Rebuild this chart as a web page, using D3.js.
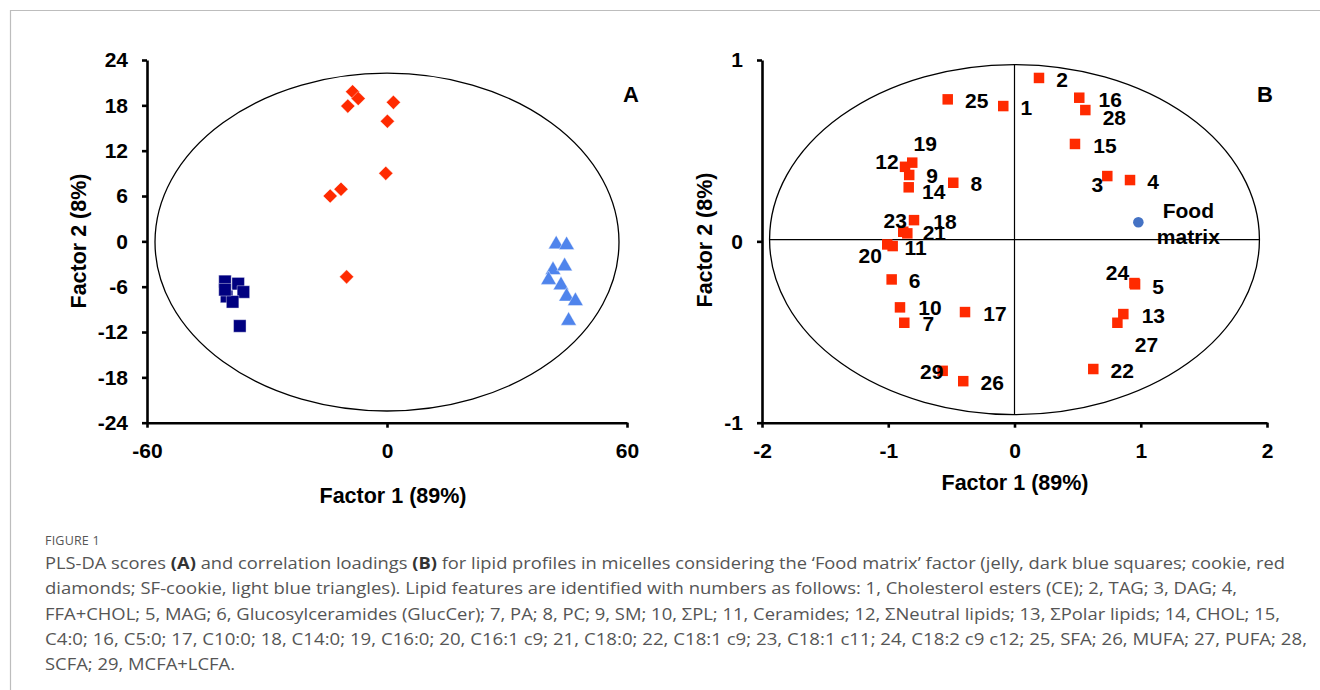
<!DOCTYPE html>
<html>
<head>
<meta charset="utf-8">
<script src="https://cdn.jsdelivr.net/npm/d3@7"></script>
<style>
  body { margin: 0; background: #fff; }
  svg text { font-family: "Liberation Sans", Arial, sans-serif; }
  .tick text { font-size: 21px; font-weight: bold; fill: #000; }
  .caption { font-family: "Open Sans", sans-serif; fill: #555; }
</style>
</head>
<body>
<div id="chart"></div>
<script>
// Panel A: PLS-DA scores
var jelly = [[-40.5, -5.3], [-37.2, -5.6], [-35.9, -6.7], [-40.1, -7.3], [-38.6, -8.0], [-40.5, -6.4], [-36.8, -11.2]];
var cookie = [[-8.6, 19.8], [-7.2, 18.9], [-9.8, 17.9], [1.6, 18.4], [0.1, 15.9], [-0.3, 9.0], [-11.5, 6.9], [-14.2, 6.0], [-10.1, -4.7]];
var sfCookie = [[42.3, -0.4], [44.9, -0.5], [41.5, -3.8], [44.4, -3.3], [40.4, -5.1], [43.5, -5.8], [44.9, -7.3], [47.1, -7.9], [45.4, -10.5]];
var xTicksA = [-60, 0, 60];
var yTicksA = [-24, -18, -12, -6, 0, 6, 12, 18, 24];

// Panel B: correlation loadings (feature 1..29)
var featureIds = [1, 2, 3, 4, 5, 6, 7, 8, 9, 10, 11, 12, 13, 14, 15, 16, 17, 18, 19, 20, 21, 22, 23, 24, 25, 26, 27, 28, 29];
var loadX = [-0.089, 0.194, 0.735, 0.915, 0.955, -0.973, -0.873, -0.485, -0.834, -0.907, -0.965, -0.867, 0.862, -0.838, 0.479,
             0.513, -0.392, -0.796, -0.810, -1.008, -0.849, 0.624, -0.881, 0.950, -0.529, -0.406, 0.815, 0.561, -0.569];
var loadY = [0.746, 0.901, 0.360, 0.338, -0.237, -0.210, -0.449, 0.323, 0.366, -0.364, -0.026, 0.411, -0.401, 0.298, 0.537,
             0.792, -0.390, 0.117, 0.434, -0.017, 0.044, -0.704, 0.053, -0.230, 0.783, -0.771, -0.449, 0.724, -0.714];
var foodMatrix = [0.981, 0.105];
var xTicksB = [-2, -1, 0, 1, 2];
var yTicksB = [-1, 0, 1];

// label placement next to each loading square (px)
var labelOffsets = [[23, 1], [23, 1], [-10, 8], [23, 1], [23, 2], [23, 1], [24, 1], [23, 1], [23, 0], [30, 0],
                    [23, 1], [-18, -5], [30, 1], [25, 4], [30, 1], [31, 2], [30, 1], [31, 1], [13, -19], [-17, 11],
                    [27, -1], [29, 1], [-8, -11], [-17, -11], [29, 1], [29, 1], [29, 22], [29, 7], [-11, 1]];

var captionLines = [
  [["PLS-DA scores ", false], ["(A)", true], [" and correlation loadings ", false], ["(B)", true], [" for lipid profiles in micelles considering the \u2018Food matrix\u2019 factor (jelly, dark blue squares; cookie, red", false]],
  [["diamonds; SF-cookie, light blue triangles). Lipid features are identified with numbers as follows: 1, Cholesterol esters (CE); 2, TAG; 3, DAG; 4,", false]],
  [["FFA+CHOL; 5, MAG; 6, Glucosylceramides (GlucCer); 7, PA; 8, PC; 9, SM; 10, \u03a3PL; 11, Ceramides; 12, \u03a3Neutral lipids; 13, \u03a3Polar lipids; 14, CHOL; 15,", false]],
  [["C4:0; 16, C5:0; 17, C10:0; 18, C14:0; 19, C16:0; 20, C16:1 c9; 21, C18:0; 22, C18:1 c9; 23, C18:1 c11; 24, C18:2 c9 c12; 25, SFA; 26, MUFA; 27, PUFA; 28,", false]],
  [["SCFA; 29, MCFA+LCFA.", false]]
];
var captionWidths = [1240, 1192, 1235, 1262, 190];

var red = "#ff2a00";

var svg = d3.select("#chart").append("svg")
  .attr("width", 1320)
  .attr("height", 690);

svg.append("rect").attr("width", 1320).attr("height", 690).attr("fill", "#fff");

// figure frame
svg.append("path")
  .attr("d", "M10.5,690 V10.5 H1320")
  .attr("fill", "none")
  .attr("stroke", "#bdbdbd")
  .attr("stroke-width", 1.2);

function fmt(d) { return String(d); }

function drawAxes(x, y, xt, yt) {
  var gx = svg.append("g")
    .attr("transform", "translate(0," + y.range()[0] + ")")
    .call(d3.axisBottom(x).tickValues(xt).tickFormat(fmt).tickSize(5).tickSizeOuter(0).tickPadding(15));
  var gy = svg.append("g")
    .attr("transform", "translate(" + x.range()[0] + ",0)")
    .call(d3.axisLeft(y).tickValues(yt).tickFormat(fmt).tickSize(5).tickSizeOuter(0).tickPadding(14));
  [gx, gy].forEach(function(g) {
    g.select(".domain").attr("stroke", "#000").attr("stroke-width", 2.6);
    g.selectAll(".tick line").attr("stroke", "#000").attr("stroke-width", 2.6);
  });
}

// ---------- Panel A ----------
var xA = d3.scaleLinear().domain([-60, 60]).range([147, 627]);
var yA = d3.scaleLinear().domain([-24, 24]).range([422.7, 60]);

svg.append("ellipse")
  .attr("cx", xA(0)).attr("cy", yA(-0.1))
  .attr("rx", xA(58) - xA(0)).attr("ry", yA(0) - yA(22.35))
  .attr("fill", "none").attr("stroke", "#000").attr("stroke-width", 1.3);

drawAxes(xA, yA, xTicksA, yTicksA);

svg.append("g").selectAll("path")
  .data(jelly).enter().append("path")
  .attr("d", d3.symbol(d3.symbolSquare, 12.5 * 12.5))
  .attr("transform", function(d) { return "translate(" + xA(d[0]) + "," + yA(d[1]) + ")"; })
  .attr("fill", "#000080").attr("stroke", "#fff").attr("stroke-width", 0.4);

svg.append("g").selectAll("path")
  .data(cookie).enter().append("path")
  .attr("d", d3.symbol(d3.symbolSquare, 10 * 10))
  .attr("transform", function(d) { return "translate(" + xA(d[0]) + "," + yA(d[1]) + ") rotate(45)"; })
  .attr("fill", red).attr("stroke", "#fff").attr("stroke-width", 0.4);

svg.append("g").selectAll("path")
  .data(sfCookie).enter().append("path")
  .attr("d", d3.symbol(d3.symbolTriangle, 105))
  .attr("transform", function(d) { return "translate(" + xA(d[0]) + "," + yA(d[1]) + ")"; })
  .attr("fill", "#4f84ec").attr("stroke", "#fff").attr("stroke-width", 0.4);

svg.append("text")
  .attr("x", 631).attr("y", 94).attr("dy", "0.36em")
  .attr("text-anchor", "middle")
  .style("font-size", "22px").style("font-weight", "bold")
  .text("A");

svg.append("text")
  .attr("x", 393).attr("y", 495).attr("dy", "0.36em")
  .attr("text-anchor", "middle")
  .style("font-size", "21.5px").style("font-weight", "bold")
  .text("Factor 1 (89%)");

svg.append("text")
  .attr("transform", "translate(78,241) rotate(-90)")
  .attr("dy", "0.36em")
  .attr("text-anchor", "middle")
  .style("font-size", "21.5px").style("font-weight", "bold")
  .text("Factor 2 (8%)");

// ---------- Panel B ----------
var xB = d3.scaleLinear().domain([-2, 2]).range([762, 1267]);
var yB = d3.scaleLinear().domain([-1, 1]).range([422.7, 60]);
var rxB = 1.94, ryB = 0.965, cyB = 0.01;

svg.append("ellipse")
  .attr("cx", xB(0)).attr("cy", yB(cyB))
  .attr("rx", xB(rxB) - xB(0)).attr("ry", yB(0) - yB(ryB))
  .attr("fill", "none").attr("stroke", "#000").attr("stroke-width", 1.3);

svg.append("line")
  .attr("x1", xB(-rxB)).attr("x2", xB(rxB))
  .attr("y1", yB(cyB)).attr("y2", yB(cyB))
  .attr("stroke", "#000").attr("stroke-width", 1.2);
svg.append("line")
  .attr("x1", xB(0)).attr("x2", xB(0))
  .attr("y1", yB(cyB + ryB)).attr("y2", yB(cyB - ryB))
  .attr("stroke", "#000").attr("stroke-width", 1.2);

drawAxes(xB, yB, xTicksB, yTicksB);

var loadings = featureIds.map(function(id, i) {
  return { id: id, x: loadX[i], y: loadY[i], off: labelOffsets[i] };
});

svg.append("g").selectAll("path")
  .data(loadings).enter().append("path")
  .attr("d", d3.symbol(d3.symbolSquare, 10.5 * 10.5))
  .attr("transform", function(d) { return "translate(" + xB(d.x) + "," + yB(d.y) + ")"; })
  .attr("fill", red);

svg.append("circle")
  .attr("cx", xB(foodMatrix[0])).attr("cy", yB(foodMatrix[1]))
  .attr("r", 5.3).attr("fill", "#4472c4");

svg.append("g").selectAll("text")
  .data(loadings).enter().append("text")
  .attr("x", function(d) { return xB(d.x) + d.off[0]; })
  .attr("y", function(d) { return yB(d.y) + d.off[1]; })
  .attr("dy", "0.36em")
  .attr("text-anchor", "middle")
  .style("font-size", "21px").style("font-weight", "bold")
  .text(function(d) { return d.id; });

svg.append("text")
  .attr("x", xB(foodMatrix[0]) + 50).attr("y", yB(foodMatrix[1]) - 12).attr("dy", "0.36em")
  .attr("text-anchor", "middle")
  .style("font-size", "21px").style("font-weight", "bold")
  .text("Food");
svg.append("text")
  .attr("x", xB(foodMatrix[0]) + 50).attr("y", yB(foodMatrix[1]) + 14).attr("dy", "0.36em")
  .attr("text-anchor", "middle")
  .style("font-size", "21px").style("font-weight", "bold")
  .text("matrix");

svg.append("text")
  .attr("x", 1265).attr("y", 94).attr("dy", "0.36em")
  .attr("text-anchor", "middle")
  .style("font-size", "22px").style("font-weight", "bold")
  .text("B");

svg.append("text")
  .attr("x", 1015).attr("y", 482).attr("dy", "0.36em")
  .attr("text-anchor", "middle")
  .style("font-size", "21.5px").style("font-weight", "bold")
  .text("Factor 1 (89%)");

svg.append("text")
  .attr("transform", "translate(704,240) rotate(-90)")
  .attr("dy", "0.36em")
  .attr("text-anchor", "middle")
  .style("font-size", "21.5px").style("font-weight", "bold")
  .text("Factor 2 (8%)");

// ---------- Caption ----------
svg.append("text")
  .attr("class", "caption")
  .attr("x", 45).attr("y", 545)
  .style("font-size", "12.5px")
  .style("letter-spacing", "0.2px")
  .text("FIGURE 1");

captionLines.forEach(function(parts, i) {
  var t = svg.append("text")
    .attr("class", "caption")
    .attr("x", 45).attr("y", 569 + i * 25.3)
    .style("font-size", "15.5px");
  if (captionWidths[i]) {
    t.attr("textLength", captionWidths[i]).attr("lengthAdjust", "spacingAndGlyphs");
  }
  parts.forEach(function(p) {
    t.append("tspan")
      .style("font-weight", p[1] ? "bold" : "normal")
      .style("fill", p[1] ? "#333" : null)
      .text(p[0]);
  });
});
</script>
</body>
</html>
